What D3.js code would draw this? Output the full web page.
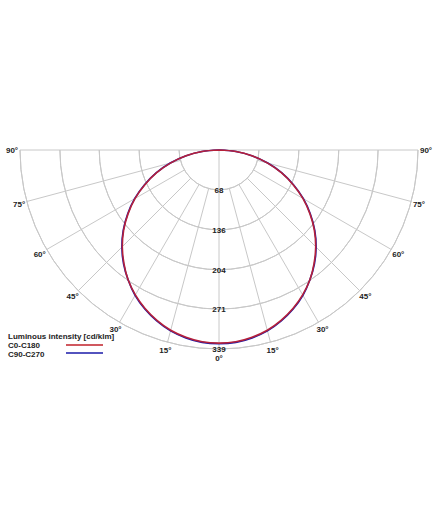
<!DOCTYPE html>
<html><head><meta charset="utf-8">
<script src="https://cdn.jsdelivr.net/npm/d3@7"></script>
<style>body{margin:0;background:#fff}</style></head>
<body><svg id="c" width="440" height="506"></svg>
<script>
const angles=[0,5,10,15,20,25,30,35,40,45,50,55,60,65,70,75,80,85,90];
const c0c180=[329,328,324,318,309,298,285,270,252,233,212,189,165,139,113,85,57,29,0];
const c90c270=[330,329,325,319,310,299,286,270,253,234,213,190,166,140,114,86,58,29,0];
const ringTicks=[68,136,204,271,339];
const angleTicks=[15,30,45,60,75,90];
const cx=219, cy=150;
const svg=d3.select("#c");
const r=d3.scaleLinear().domain([0,339]).range([0,199]);
const pt=(a,v,s)=>[cx+s*r(v)*Math.sin(a*Math.PI/180), cy+r(v)*Math.cos(a*Math.PI/180)];
const g=svg.append("g").attr("fill","none").attr("stroke","#c8c8c8").attr("stroke-width",1);
ringTicks.forEach(t=>{
  const arc=d3.arc().innerRadius(r(t)).outerRadius(r(t)).startAngle(Math.PI/2).endAngle(3*Math.PI/2);
  g.append("path").attr("d",arc()).attr("transform",`translate(${cx},${cy})`);
});
[-90,-75,-60,-45,-30,-15,0,15,30,45,60,75,90].forEach(a=>{
  const s=a<0?-1:1, aa=Math.abs(a);
  const start=(aa===0||aa===90)?0:ringTicks[0];
  const p0=pt(aa,start,s), p1=pt(aa,339,s);
  g.append("line").attr("x1",p0[0]).attr("y1",p0[1]).attr("x2",p1[0]).attr("y2",p1[1]);
});
const txt=svg.append("g").attr("font-family","Liberation Sans, Arial, sans-serif").attr("font-size",8).attr("font-weight","bold").attr("fill","#222");
ringTicks.forEach(t=>{
  txt.append("text").attr("x",cx).attr("y",cy+r(t)+3).attr("text-anchor","middle").text(t);
});
angleTicks.forEach(a=>{
  [-1,1].forEach(s=>{
    const p=pt(a,339,s);
    const rr=r(339)+8;
    let x=cx+s*rr*Math.sin(a*Math.PI/180), y=cy+rr*Math.cos(a*Math.PI/180);
    txt.append("text").attr("x",x).attr("y",y+3).attr("text-anchor","middle").text(a+"°");
  });
});
txt.append("text").attr("x",cx).attr("y",cy+r(339)+12).attr("text-anchor","middle").text("0°");
const line=(vals,s)=>angles.map((a,i)=>pt(a,vals[i],s));
function curve(vals,color){
  const pts=line(vals,-1).reverse().concat(line(vals,1).slice(1));
  svg.append("path").attr("d",d3.line().curve(d3.curveCatmullRom)(pts)).attr("fill","none").attr("stroke",color).attr("stroke-width",1.6);
}
curve(c90c270,"#1a1aa8");
curve(c0c180,"#b5203a");
const leg=svg.append("g").attr("font-family","Liberation Sans, Arial, sans-serif").attr("font-size",8).attr("font-weight","bold").attr("fill","#222");
leg.append("text").attr("x",8).attr("y",339).text("Luminous intensity [cd/klm]");
leg.append("text").attr("x",8).attr("y",348).text("C0-C180");
leg.append("text").attr("x",8).attr("y",357).text("C90-C270");
svg.append("line").attr("x1",66).attr("x2",103).attr("y1",345).attr("y2",345).attr("stroke","#c0202a").attr("stroke-width",1.6);
svg.append("line").attr("x1",66).attr("x2",103).attr("y1",353).attr("y2",353).attr("stroke","#1a1aa8").attr("stroke-width",1.6);
</script></body></html>
